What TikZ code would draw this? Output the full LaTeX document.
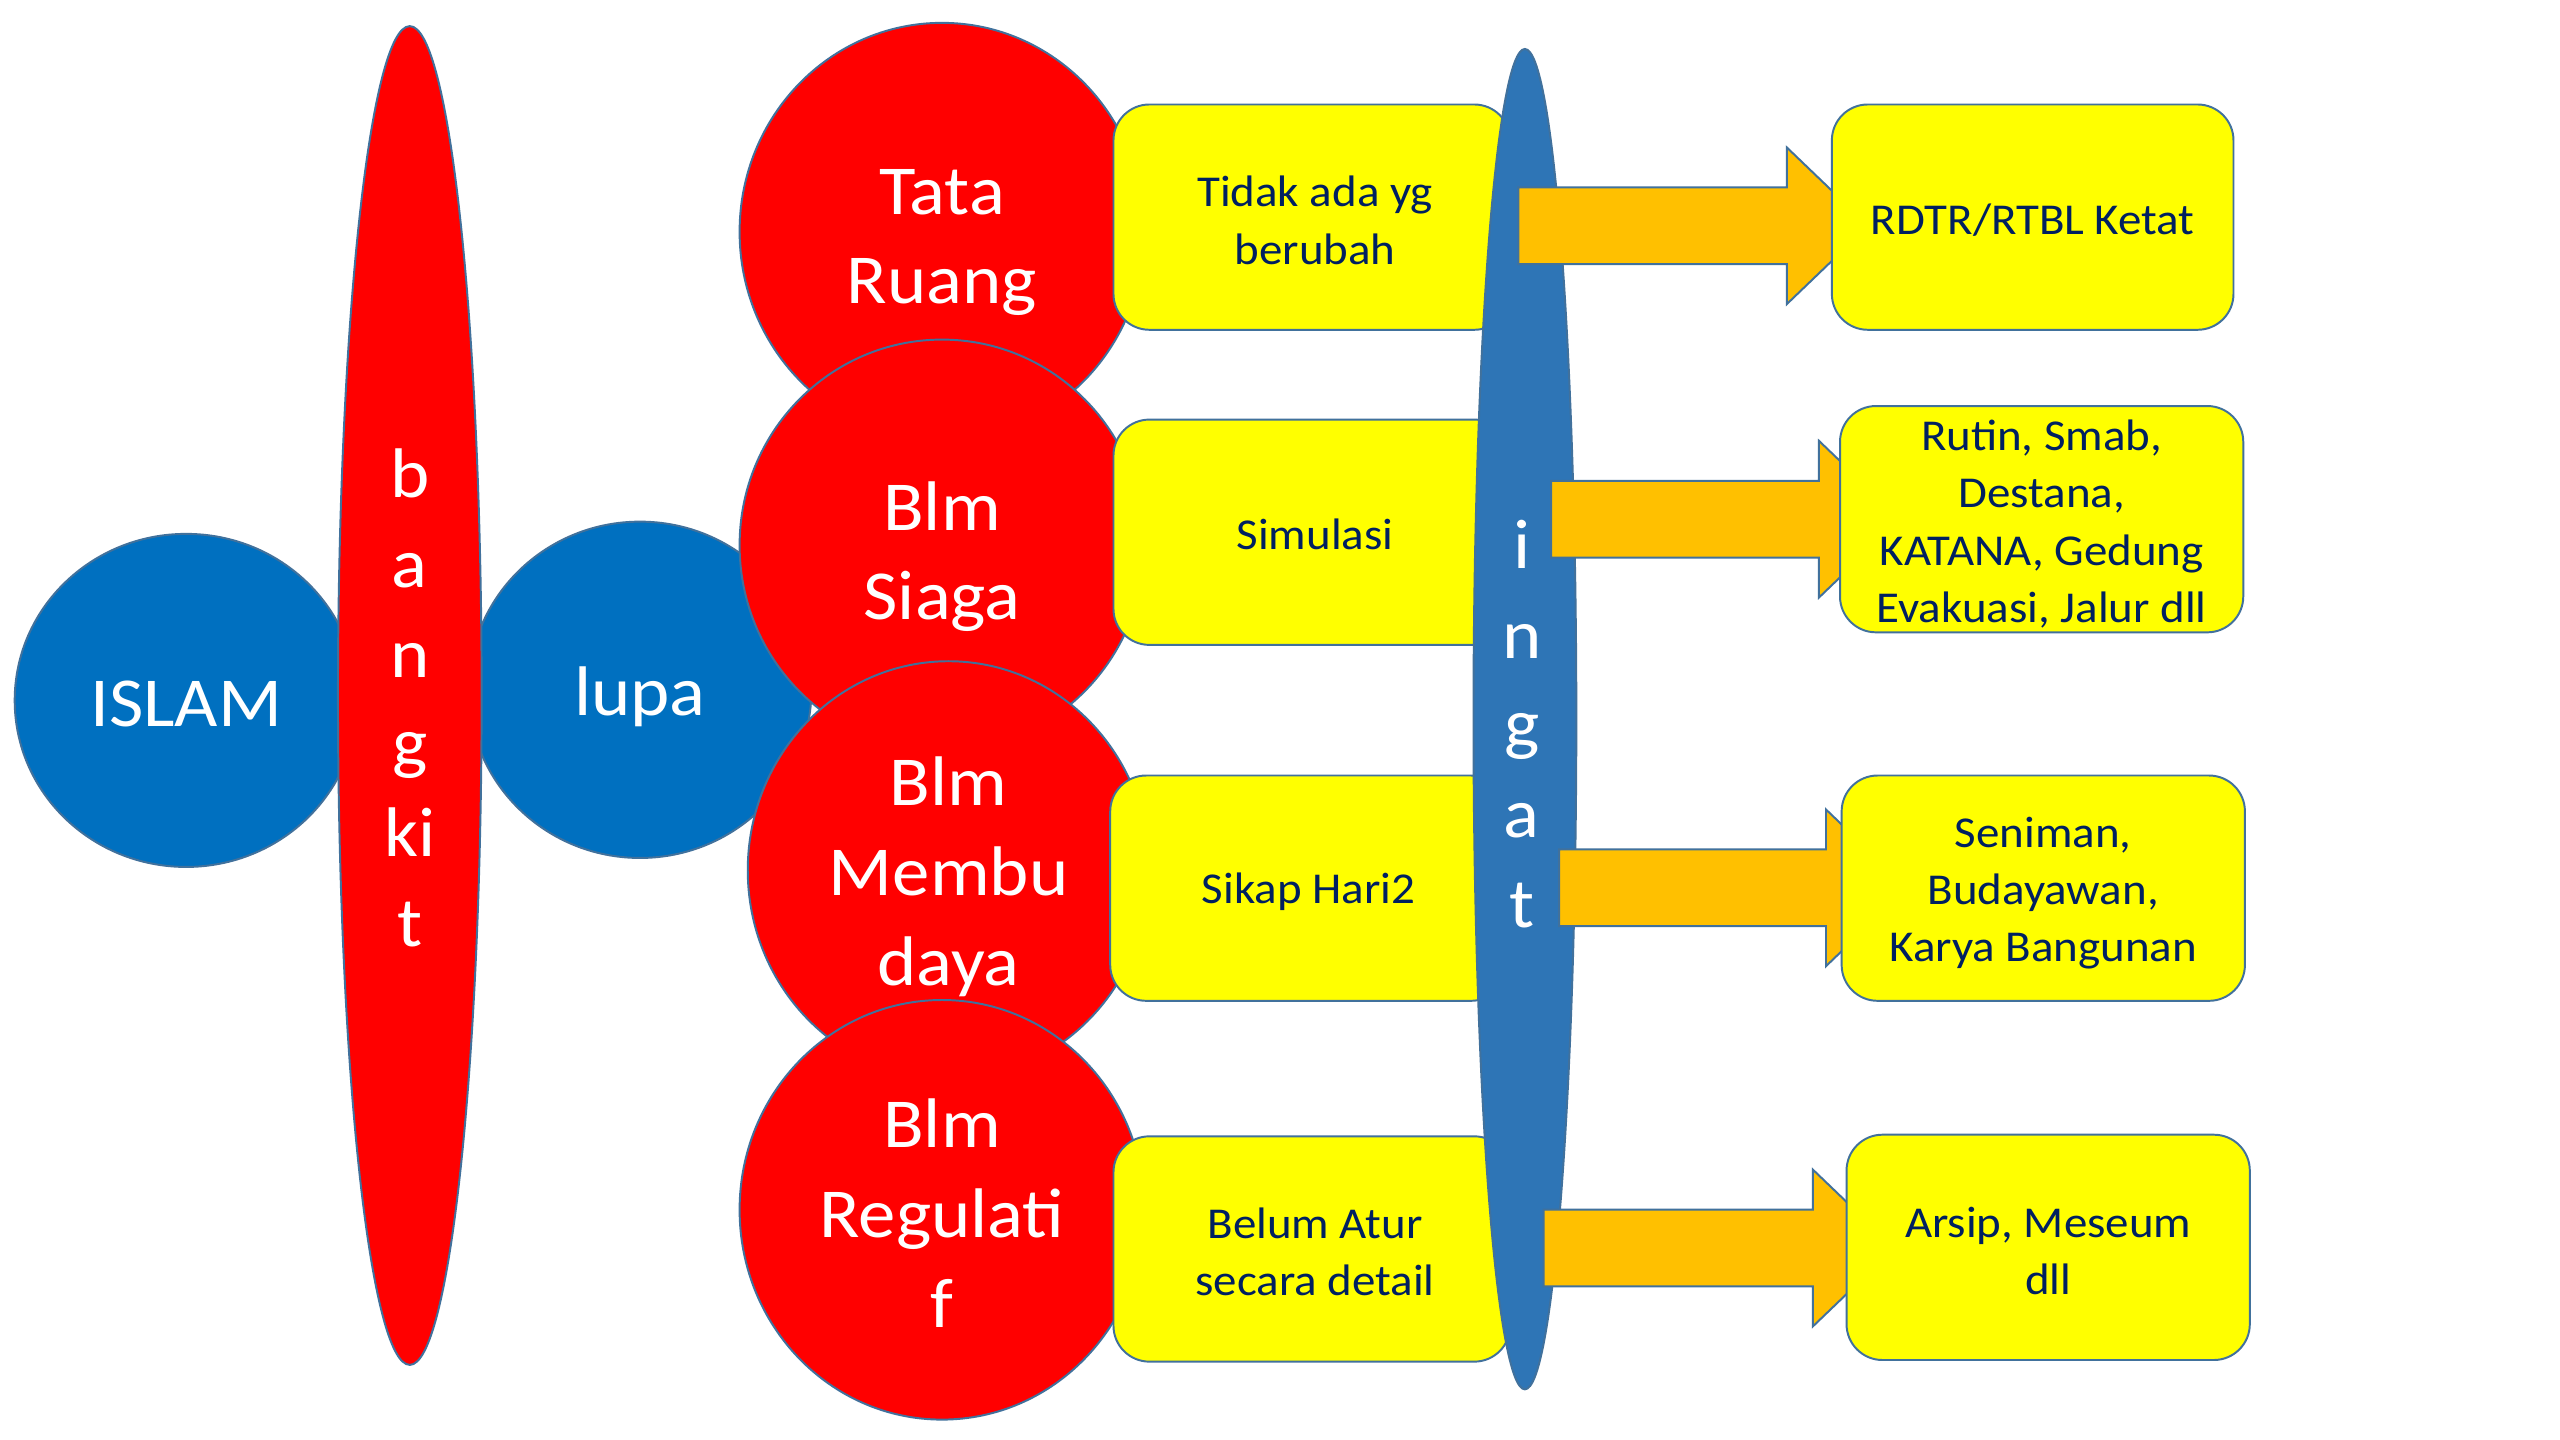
\documentclass[tikz,border=0pt]{standalone}
\usepackage{fontspec}
\setmainfont{Carlito}[FakeStretch=1.065]
\usetikzlibrary{shapes.geometric,calc}
\definecolor{cred}{HTML}{FF0000}
\definecolor{cblue}{HTML}{0070C0}
\definecolor{cbluetwo}{HTML}{2E75B6}
\definecolor{cyel}{HTML}{FFFF00}
\definecolor{corg}{HTML}{FFC000}
\definecolor{cline}{HTML}{41719C}
\definecolor{ctext}{HTML}{002060}
\pgfdeclarelayer{front}
\pgfsetlayers{main,front}
\newcommand\orarrow[3]{\draw[fatarrow] let \p1=(#1), \p2=(#2.west) in
  (\x1,\y1+23.5pt) -- (\x2-#3pt,\y1+23.5pt) -- (\x2-#3pt,\y1+48pt) -- (\x2-#3pt+50pt,\y1)
  -- (\x2-#3pt,\y1-48pt) -- (\x2-#3pt,\y1-23.5pt) -- (\x1,\y1-23.5pt) -- cycle;}
\begin{document}
\begin{tikzpicture}[x=1pt,y=-1pt,
  shapebase/.style={ellipse, draw=cline, line width=1.2pt, inner sep=0pt},
  blueoval/.style={shapebase, fill=cblue},
  redoval/.style={shapebase, fill=cred},
  bigtxt/.style={text=white, align=center, inner sep=0pt, font=\fontsize{43}{55}\selectfont},
  ybox/.style={rectangle, rounded corners=22pt, draw=cline, line width=1.2pt, fill=cyel, inner sep=0pt},
  ytxt/.style={text=ctext, align=center, inner sep=0pt, font=\fontsize{27}{35}\selectfont},
  fatarrow/.style={fill=corg, draw=cline, line width=1.2pt}]

\fill[white] (0,0) rectangle (1568,882);
\useasboundingbox (0,0) rectangle (1568,882);

% left ovals
\node[blueoval, minimum width=210, minimum height=204] (islam) at (114,429) {};
\node[bigtxt] (islamt) at ($(islam.center)+(0,2)$) {ISLAM};
\node[blueoval, minimum width=210, minimum height=206] (lupa) at (392,422.5) {};
\node[bigtxt] (lupat) at ($(lupa.center)+(0,4)$) {lupa};
\node[redoval, minimum width=88, minimum height=820] (bangkit) at (251,426) {};
\node[bigtxt] (bangkitt) at ($(bangkit.center)+(0,1.5)$) {b\\a\\n\\g\\ki\\t};

% red ovals
\node[redoval, minimum width=248, minimum height=256] (tata) at (577,142) {};
\node[bigtxt] (tatat) at ($(tata.center)+(0,6.5)$) {Tata\\Ruang};
\node[redoval, minimum width=248, minimum height=252] (siaga) at (577,334) {};
\node[bigtxt] (siagat) at ($(siaga.center)+(0,7)$) {Blm\\Siaga};
\node[redoval, minimum width=246, minimum height=256] (budaya) at (581,533) {};
\node[bigtxt] (budayat) at ($(budaya.center)+(0,4)$) {Blm\\Membu\\daya};
\node[redoval, minimum width=248, minimum height=257] (regul) at (577,741) {};
\node[bigtxt] (regult) at ($(regul.center)+(0,2)$) {Blm\\Regulati\\f};

% yellow boxes left
\node[ybox, minimum width=243, minimum height=138] (b1) at (803.5,133) {};
\node[ytxt] (b1t) at ($(b1.center)+(2,2)$) {Tidak ada yg\\berubah};
\node[ybox, minimum width=243, minimum height=138] (b2) at (803.5,326) {};
\node[ytxt] (b2t) at ($(b2.center)+(2,1.5)$) {Simulasi};
\node[ybox, minimum width=243, minimum height=138] (b3) at (801.5,544) {};
\node[ytxt] (b3t) at ($(b3.center)+(0,2)$) {Sikap Hari2};
\node[ybox, minimum width=243, minimum height=138] (b4) at (803.5,765) {};
\node[ytxt] (b4t) at ($(b4.center)+(2,2)$) {Belum Atur\\secara detail};

% ingat
\node[shapebase, fill=cbluetwo, minimum width=63, minimum height=821] (ingat) at (934,440.5) {};
\node[bigtxt] (ingatt) at ($(ingat.center)+(-2,3)$) {i\\n\\g\\a\\t};

% right boxes (front layer)
\begin{pgfonlayer}{front}
\node[ybox, minimum width=246, minimum height=138] (r1) at (1245,133) {};
\node[ytxt] (r1t) at ($(r1.center)+(0,2)$) {RDTR/RTBL Ketat};
\node[ybox, minimum width=247, minimum height=138.6] (r2) at (1250.5,318) {};
\node[ytxt] (r2t) at ($(r2.center)+(0,3)$) {Rutin, Smab,\\Destana,\\KATANA, Gedung\\Evakuasi, Jalur dll};
\node[ybox, minimum width=247, minimum height=138] (r3) at (1251.5,544) {};
\node[ytxt] (r3t) at ($(r3.center)+(0,3)$) {Seniman,\\Budayawan,\\Karya Bangunan};
\node[ybox, minimum width=247, minimum height=138] (r4) at (1254.5,764) {};
\node[ytxt] (r4t) at ($(r4.center)+(0,2)$) {Arsip, Meseum\\dll};
\end{pgfonlayer}

% arrows
\coordinate (a1) at (930,138.3);
\coordinate (a2) at (950,318);
\coordinate (a3) at (955,543.8);
\coordinate (a4) at (945.4,764.4);
\orarrow{a1}{r1}{27}
\orarrow{a2}{r2}{12.3}
\orarrow{a3}{r3}{9}
\orarrow{a4}{r4}{20}
\end{tikzpicture}
\end{document}
